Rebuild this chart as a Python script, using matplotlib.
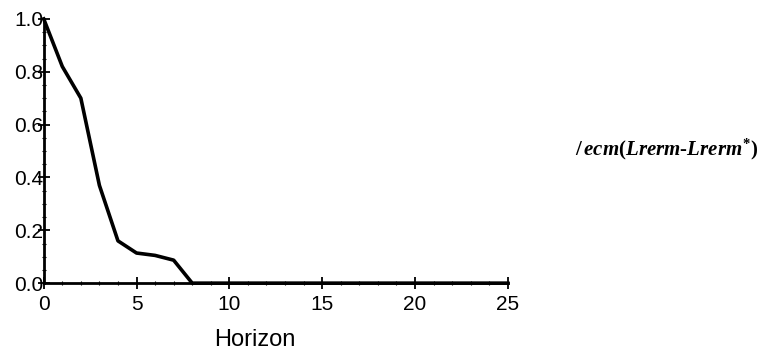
import matplotlib
matplotlib.use("Agg")
import matplotlib.pyplot as plt
from matplotlib.ticker import MultipleLocator

horizon = [0, 1, 2, 3, 4, 5, 6, 7, 8, 9, 10, 11, 12, 13, 14, 15, 16, 17, 18, 19, 20, 21, 22, 23, 24, 25]
response = [1.0, 0.82, 0.70, 0.37, 0.16, 0.114, 0.105, 0.087, 0.0, 0.0, 0.0, 0.0, 0.0,
            0.0, 0.0, 0.0, 0.0, 0.0, 0.0, 0.0, 0.0, 0.0, 0.0, 0.0, 0.0, 0.0]
xticks = [0, 5, 10, 15, 20, 25]
yticks = [0.0, 0.2, 0.4, 0.6, 0.8, 1.0]
ytick_labels = ["0.0", "0.2", "0.4", "0.6", "0.8", "1.0"]

plt.rcParams['font.family'] = ['Liberation Sans', 'DejaVu Sans']
plt.rcParams['mathtext.fontset'] = 'custom'
plt.rcParams['mathtext.it'] = 'Liberation Serif:italic:bold'
plt.rcParams['mathtext.rm'] = 'Liberation Serif:bold'

fig = plt.figure(figsize=(7.67, 3.5), dpi=100)
ax = fig.add_axes([0.057, 0.191, 0.605, 0.755])
ax.plot(horizon, response, color='black', lw=2.6, solid_joinstyle='round', clip_on=False)
ax.set_xlim(0, 25)
ax.set_ylim(0, 1.0)
for s in ['top', 'right']:
    ax.spines[s].set_visible(False)
for s in ['left', 'bottom']:
    ax.spines[s].set_linewidth(2.0)
ax.set_xticks(xticks)
ax.set_xticklabels([str(v) for v in xticks])
ax.set_yticks(yticks)
ax.set_yticklabels(ytick_labels)
ax.xaxis.set_minor_locator(MultipleLocator(1))
ax.yaxis.set_minor_locator(MultipleLocator(0.05))
ax.tick_params(axis='both', which='major', direction='inout', length=9, width=1.3,
               labelsize=15, pad=0)
ax.tick_params(axis='both', which='minor', direction='inout', length=3, width=0.8)
ax.tick_params(axis='y', pad=-4)
ax.tick_params(axis='x', pad=4)
ax.set_xlabel("Horizon", fontsize=17)
ax.xaxis.set_label_coords(0.455, -0.175)

fig.text(0.75, 0.555, r"$/\,ecm(Lrerm\text{-}Lrerm^{*})$", fontsize=15, color='black')

fig.savefig("out.png", dpi=100)
